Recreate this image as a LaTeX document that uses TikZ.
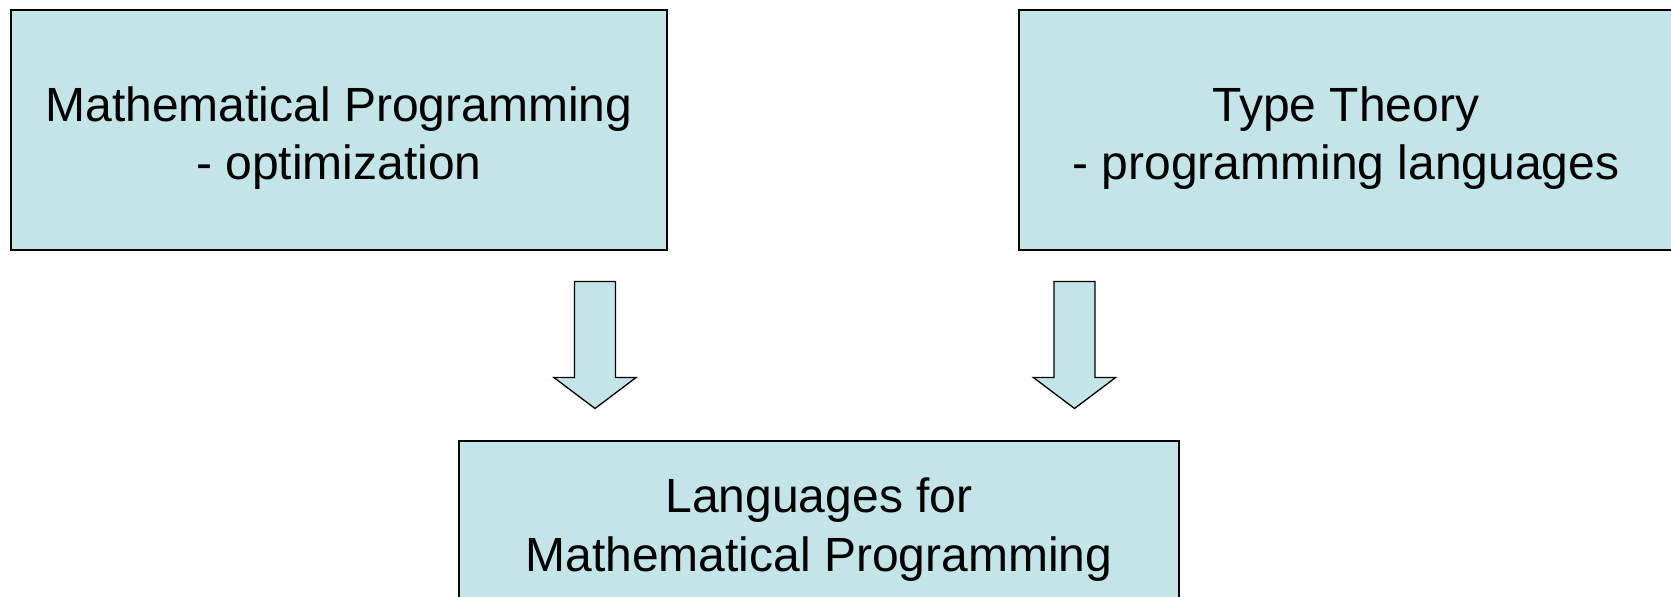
\documentclass[tikz,border=0pt]{standalone}
\usepackage{fontspec}
\setmainfont{Liberation Sans}
\usetikzlibrary{shapes.arrows}
\definecolor{boxfill}{RGB}{196,229,232}
\tikzset{
  topicbox/.style={draw, line width=2pt, fill=boxfill, inner sep=0pt},
  topictext/.style={align=center, inner sep=0pt, font=\fontsize{48}{58.6}\selectfont},
  flowarrow/.style={single arrow, draw, line width=1.3pt, fill=boxfill,
    shape border rotate=270, inner sep=19.8pt, minimum height=127pt,
    single arrow head extend=20.8pt, single arrow tip angle=106, anchor=tip},
}
\begin{document}
\begin{tikzpicture}[x=1pt,y=-1pt]
  \useasboundingbox (0,0) rectangle (1671,597);

  % the two source fields
  \node[topicbox, minimum width=656pt, minimum height=240pt] (mathprog) at (339,130) {};
  \node[topictext] (mathprogtext) at (339,137.9) {Mathematical Programming\\- optimization};
  \node[topicbox, minimum width=656pt, minimum height=240pt] (typetheory) at (1347,130) {};
  \node[topictext] (typetheorytext) at (1346,137.9) {Type Theory\\- programming languages};

  % the result
  \node[topicbox, minimum width=720pt, minimum height=240pt] (langs) at (819,561.2) {};
  \node[topictext] (langstext) at (819,529.5) {Languages for\\Mathematical Programming};

  \node[flowarrow] (arrleft) at (595,409.3) {};
  \node[flowarrow] (arrright) at (1074.5,409.3) {};
\end{tikzpicture}
\end{document}
